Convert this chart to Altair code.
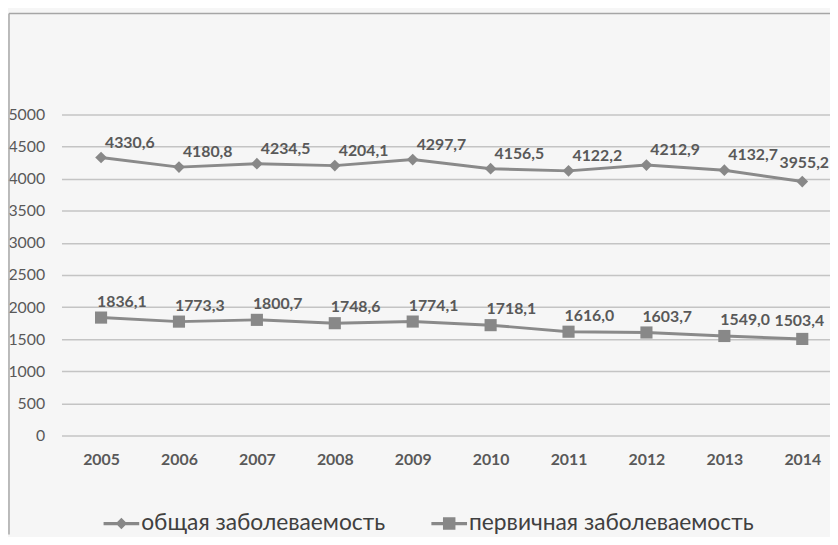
import altair as alt
import pandas as pd

years = [2005, 2006, 2007, 2008, 2009, 2010, 2011, 2012, 2013, 2014]
total = [4330.6, 4180.8, 4234.5, 4204.1, 4297.7, 4156.5, 4122.2, 4212.9, 4132.7, 3955.2]
primary = [1836.1, 1773.3, 1800.7, 1748.6, 1774.1, 1718.1, 1616.0, 1603.7, 1549.0, 1503.4]
series_names = ["общая заболеваемость", "первичная заболеваемость"]
y_ticks = [0, 500, 1000, 1500, 2000, 2500, 3000, 3500, 4000, 4500, 5000]

rows = []
for name, vals in zip(series_names, [total, primary]):
    for yr, v in zip(years, vals):
        rows.append({"year": yr, "value": v, "series": name,
                     "label": f"{v:.1f}".replace(".", ",")})
df = pd.DataFrame(rows)

FONT = "Lato"
LINE = "#8a8a8a"
MARK = "#888888"
TXT = "#595959"

x = alt.X("year:Q",
          scale=alt.Scale(domain=[2004.492, 2014.356], nice=False, zero=False),
          axis=alt.Axis(values=years, format="d", title=None, grid=False, ticks=False,
                        domain=False, labelFont=FONT, labelFontSize=16,
                        labelFontWeight="bold", labelColor=TXT, labelPadding=16))
y = alt.Y("value:Q",
          scale=alt.Scale(domain=[0, 5000], nice=False),
          axis=alt.Axis(values=y_ticks, format="d", title=None, ticks=False, domain=False,
                        grid=True, gridColor="#c4c4c4", gridWidth=1.5, labelFont=FONT,
                        labelFontSize=16, labelColor=TXT, labelPadding=17,
                        labelAlign="right"))

base = alt.Chart(df)

lines = base.mark_line(color=LINE, strokeWidth=3).encode(x=x, y=y, detail="series:N")

diamonds = base.transform_filter(alt.datum.series == series_names[0]).mark_point(
    shape="diamond", filled=True, size=140, color=MARK, opacity=1).encode(x=x, y=y)
squares = base.transform_filter(alt.datum.series == series_names[1]).mark_point(
    shape="square", filled=True, size=150, color=MARK, opacity=1).encode(x=x, y=y)


def labels(name, last, dx, dy):
    cond = (alt.datum.year == 2014) if last else (alt.datum.year < 2014)
    return base.transform_filter(alt.datum.series == name).transform_filter(cond).mark_text(
        font=FONT, fontSize=16, fontWeight="bold", color=TXT, dx=dx, dy=dy).encode(
        x=x, y=y, text="label:N")


lab1 = labels(series_names[0], False, 29, -15)
lab1l = labels(series_names[0], True, 2, -19)
lab2 = labels(series_names[1], False, 21, -16)
lab2l = labels(series_names[1], True, -3, -18)

p_diamond = ("M-1,-0.09 L1,-0.09 L1,0.09 L-1,0.09 Z "
             "M0,-0.32 L0.32,0 L0,0.32 L-0.32,0 Z")
p_square = ("M-1,-0.09 L1,-0.09 L1,0.09 L-1,0.09 Z "
            "M-0.35,-0.35 L0.35,-0.35 L0.35,0.35 L-0.35,0.35 Z")

legend_layer = base.transform_filter("false").mark_point(
    filled=True, color=MARK, opacity=1).encode(
    x=x, y=y,
    shape=alt.Shape("series:N",
                    scale=alt.Scale(domain=series_names, range=[p_diamond, p_square]),
                    legend=alt.Legend(title=None, orient="none", legendX=42.5, legendY=395,
                                      direction="horizontal", symbolSize=1296,
                                      symbolFillColor=MARK, symbolStrokeWidth=0,
                                      labelFont=FONT, labelFontSize=23, labelColor="#404040",
                                      labelOffset=2, columnPadding=46, padding=0,
                                      labelLimit=500)))

one = pd.DataFrame({"k": [0]})
frame_top = alt.Chart(one).mark_rule(color="#a6a6a6", strokeWidth=1.5).encode(
    x=alt.value(-53), x2=alt.value(776), y=alt.value(-102))
frame_left = alt.Chart(one).mark_rule(color="#a6a6a6", strokeWidth=1.5).encode(
    x=alt.value(-53), y=alt.value(-102), y2=alt.value(424))

chart = alt.layer(frame_top, frame_left, lines, diamonds, squares,
                  lab1, lab1l, lab2, lab2l, legend_layer).properties(
    width=776, height=324,
    padding={"left": 54, "top": 105, "right": 0, "bottom": 100},
    autosize=alt.AutoSizeParams(type="none"),
).configure(background="#f6f6f6").configure_view(strokeWidth=0)

chart.save("out.html", embed_options={"renderer": "svg", "actions": False})
